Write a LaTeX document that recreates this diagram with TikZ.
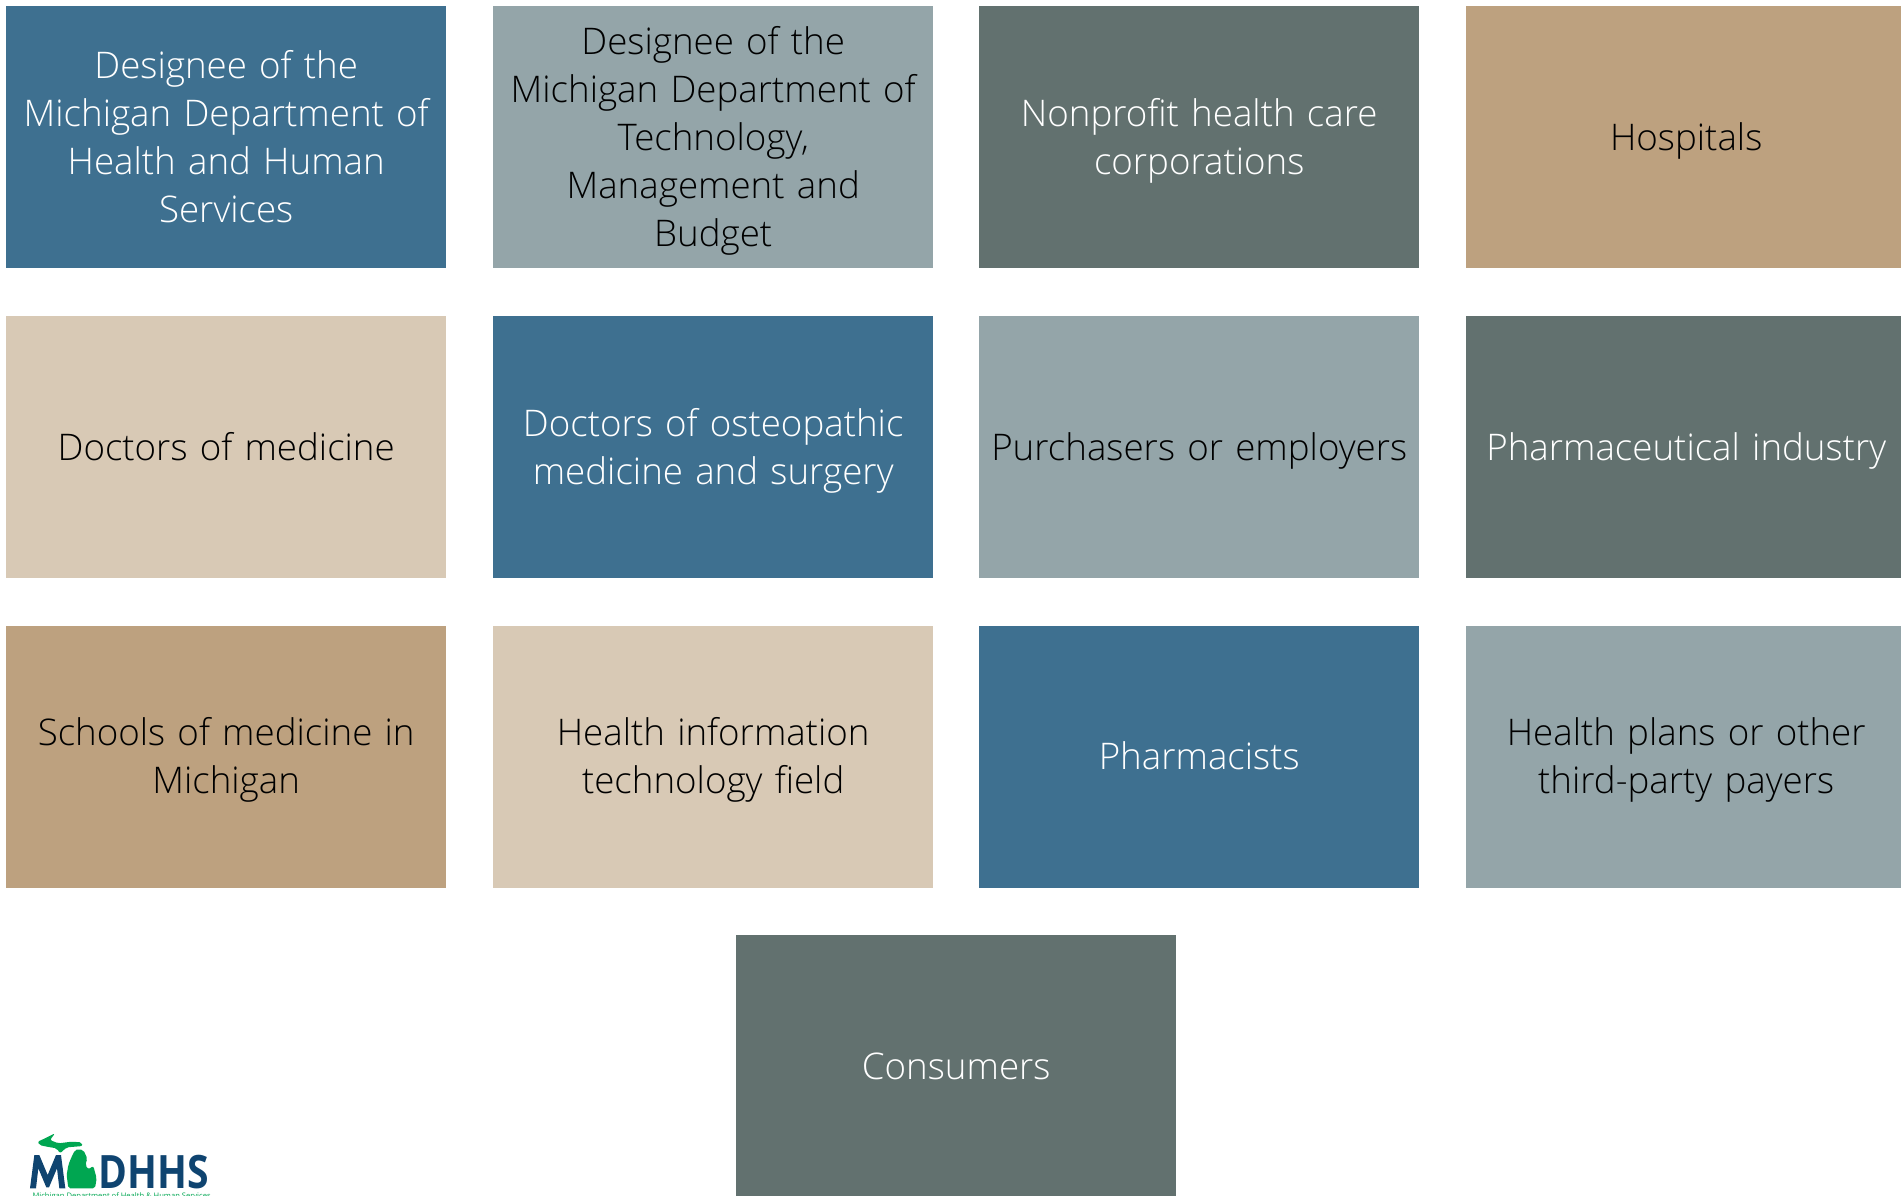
\documentclass[tikz,border=0pt]{standalone}
\usepackage{fontspec}
\setmainfont{Open Sans Light}
\newfontfamily\logofont{Open Sans}
\definecolor{cblue}{HTML}{3E7090}
\definecolor{cgrey}{HTML}{94A5A9}
\definecolor{cslate}{HTML}{62716F}
\definecolor{ctan}{HTML}{BDA17F}
\definecolor{cbeige}{HTML}{D8C9B5}
\definecolor{lognavy}{HTML}{0F4470}
\definecolor{loggreen}{HTML}{00A651}
\newcommand{\tilestrut}{\rule[-11pt]{0pt}{48pt}}
\tikzset{
  tile/.style={anchor=north west,minimum width=440pt,minimum height=262pt,inner sep=0pt,
    text width=432pt,align=center,font=\fontsize{36.7}{48}\selectfont,
    execute at begin node=\tilestrut,execute at end node=\tilestrut},
  darktile/.style={tile,text=white},
  lighttile/.style={tile,text=black}
}
\begin{document}
\begin{tikzpicture}[x=1pt,y=-1pt]
\useasboundingbox (0,0) rectangle (1901,1195);
\clip (0,0) rectangle (1901,1195);
\node[darktile,fill=cblue] (n1) at (6,6) {Designee of the\\Michigan Department of\\Health and Human\\Services};
\node[lighttile,fill=cgrey] (n2) at (493,6) {Designee of the\\Michigan Department of\\Technology,\\Management and\\Budget};
\node[darktile,fill=cslate] (n3) at (979,6) {Nonprofit health care\\corporations};
\node[lighttile,fill=ctan] (n4) at (1466,6) {Hospitals};
\node[lighttile,fill=cbeige] (n5) at (6,316) {Doctors of medicine};
\node[darktile,fill=cblue] (n6) at (493,316) {Doctors of osteopathic\\medicine and surgery};
\node[lighttile,fill=cgrey] (n7) at (979,316) {Purchasers or employers};
\node[darktile,fill=cslate] (n8) at (1466,316) {Pharmaceutical industry};
\node[lighttile,fill=ctan] (n9) at (6,625.5) {Schools of medicine in\\Michigan};
\node[lighttile,fill=cbeige] (n10) at (493,625.5) {Health information\\technology field};
\node[darktile,fill=cblue] (n11) at (979,625.5) {Pharmacists};
\node[lighttile,fill=cgrey] (n12) at (1466,625.5) {Health plans or other\\third-party payers};
\node[darktile,fill=cslate] (n13) at (736,935) {Consumers};
% logo
\begin{scope}[x=0.33333pt,y=-0.33333pt,yshift=-1100pt]
\fill[loggreen,rounded corners=2pt] (113,125) -- (135,115) -- (165,100) -- (150,120) -- (175,130) -- (215,125) -- (245,127) -- (248,138) -- (225,140) -- (200,142) -- (180,160) -- (170,145) -- (140,140) -- (118,135) -- cycle;
\fill[loggreen,rounded corners=2pt] (235,148) -- (225,150) -- (215,170) -- (205,195) -- (200,225) -- (205,265) -- (285,265) -- (290,235) -- (280,198) -- (265,208) -- (256,195) -- (262,175) -- (250,150) -- cycle;
\fill[lognavy] (90,265) -- (103,165) -- (118,165) -- (143,225) -- (168,165) -- (183,165) -- (196,265) -- (178,265) -- (171,205) -- (147,262) -- (139,262) -- (115,205) -- (108,265) -- cycle;
\node[anchor=base west,inner sep=0pt,text=lognavy,font=\logofont\bfseries\fontsize{46}{46}\selectfont] (logotext) at (295,265) {\scalebox{.85}[1]{DHHS}};
\node[anchor=base west,inner sep=0pt,text=loggreen,font=\logofont\fontsize{7.6}{8}\selectfont] (logosub) at (97,294) {Michigan Department of Health \& Human Services};
\end{scope}
\end{tikzpicture}
\end{document}
